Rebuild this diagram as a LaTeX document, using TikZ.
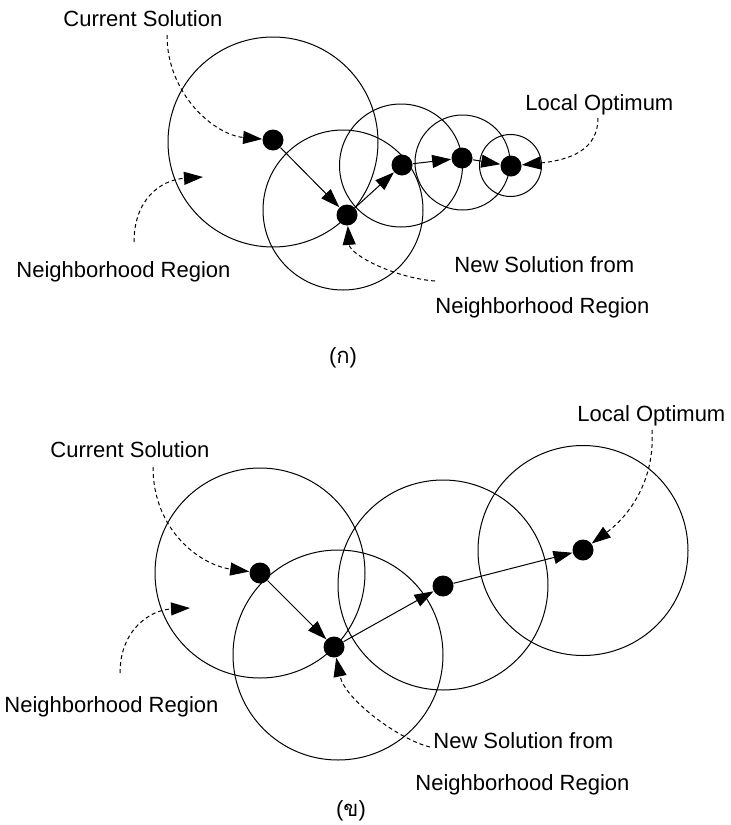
\documentclass[tikz,border=0pt]{standalone}
\usepackage{fontspec}
\setmainfont{Liberation Sans}
\newfontfamily\thaifont[Script=Thai]{Loma}
\usetikzlibrary{arrows.meta}

\begin{document}
\begin{tikzpicture}[x=0.5pt,y=-0.5pt,
		dot/.style={circle,fill,inner sep=0pt,minimum size=10.5pt},
		lbl/.style={anchor=base west,inner sep=0pt,font=\fontsize{11}{13}\selectfont},
		tag/.style={anchor=base,inner sep=0pt,font=\fontsize{11}{13}\selectfont},
		move/.style={-{Triangle[length=9.5pt,width=6.5pt]},line width=0.5pt},
		hint/.style={move,dash pattern=on 2pt off 1.5pt},
		region/.style={line width=0.5pt}]
	\useasboundingbox (0,0) rectangle (730,825);

	% (ก)
	\foreach \cx/\cy/\r in {273/142/52.5,343/210/40,401/165.5/30.75,462.5/162.5/23.75,510.5/165.5/15.5}
		\draw[region] (\cx,\cy) circle[radius=\r pt];
	\node[dot] (a1) at (273,140) {};
	\node[dot] (a2) at (347,215) {};
	\node[dot] (a3) at (402,165) {};
	\node[dot] (a4) at (462,158) {};
	\node[dot] (a5) at (511,166) {};
	\draw[move] (a1) -- (a2);
	\draw[move] (a2) -- (a3);
	\draw[move] (a3) -- (a4);
	\draw[move] (a4) -- (a5);

	\node[lbl] (acur) at (63,26) {Current Solution};
	\node[lbl] (aopt) at (525,110) {Local Optimum};
	\node[lbl] (areg) at (16,277) {Neighborhood Region};
	\node[lbl] (anew) at (454,272) {New Solution from};
	\node[lbl] (anew2) at (435,313) {Neighborhood Region};
	\node[tag] (acap) at (343,363) {({\thaifont ก})};
	\coordinate (acurs) at (167,35);
	\coordinate (aregs) at (134,242);
	\coordinate (arege) at (203,177);
	\coordinate (anews) at (435,281);
	\coordinate (aopts) at (598,118);
	\draw[hint] (acurs) .. controls (167,95) and (215,135) .. (a1);
	\draw[hint] (aregs) .. controls (134,200) and (160,180) .. (arege);
	\draw[hint] (anews) .. controls (395,278) and (350,255) .. (a2);
	\draw[hint] (aopts) .. controls (598,150) and (570,160) .. (a5);

	% (ข)
	\foreach \cx/\cy in {260/573,338/655,443/585,583/550.5}
		\draw[region] (\cx,\cy) circle[radius=52.5pt];
	\node[dot] (b1) at (260,573) {};
	\node[dot] (b2) at (334,647) {};
	\node[dot] (b3) at (443,586) {};
	\node[dot] (b4) at (583,550) {};
	\draw[move] (b1) -- (b2);
	\draw[move] (b2) -- (b3);
	\draw[move] (b3) -- (b4);

	\node[lbl] (bcur) at (50,457) {Current Solution};
	\node[lbl] (bopt) at (577,421) {Local Optimum};
	\node[lbl] (breg) at (4,712) {Neighborhood Region};
	\node[lbl] (bnew) at (433,748) {New Solution from};
	\node[lbl] (bnew2) at (415,790) {Neighborhood Region};
	\node[tag] (bcap) at (351,816) {({\thaifont ข})};
	\coordinate (bcurs) at (153,467);
	\coordinate (bregs) at (120,673);
	\coordinate (brege) at (190,608);
	\coordinate (bnews) at (430,747);
	\coordinate (bopts) at (652,430);
	\draw[hint] (bcurs) .. controls (153,530) and (200,565) .. (b1);
	\draw[hint] (bregs) .. controls (120,630) and (150,610) .. (brege);
	\draw[hint] (bnews) .. controls (400,740) and (345,700) .. (b2);
	\draw[hint] (bopts) .. controls (655,480) and (630,515) .. (b4);
\end{tikzpicture}
\end{document}
